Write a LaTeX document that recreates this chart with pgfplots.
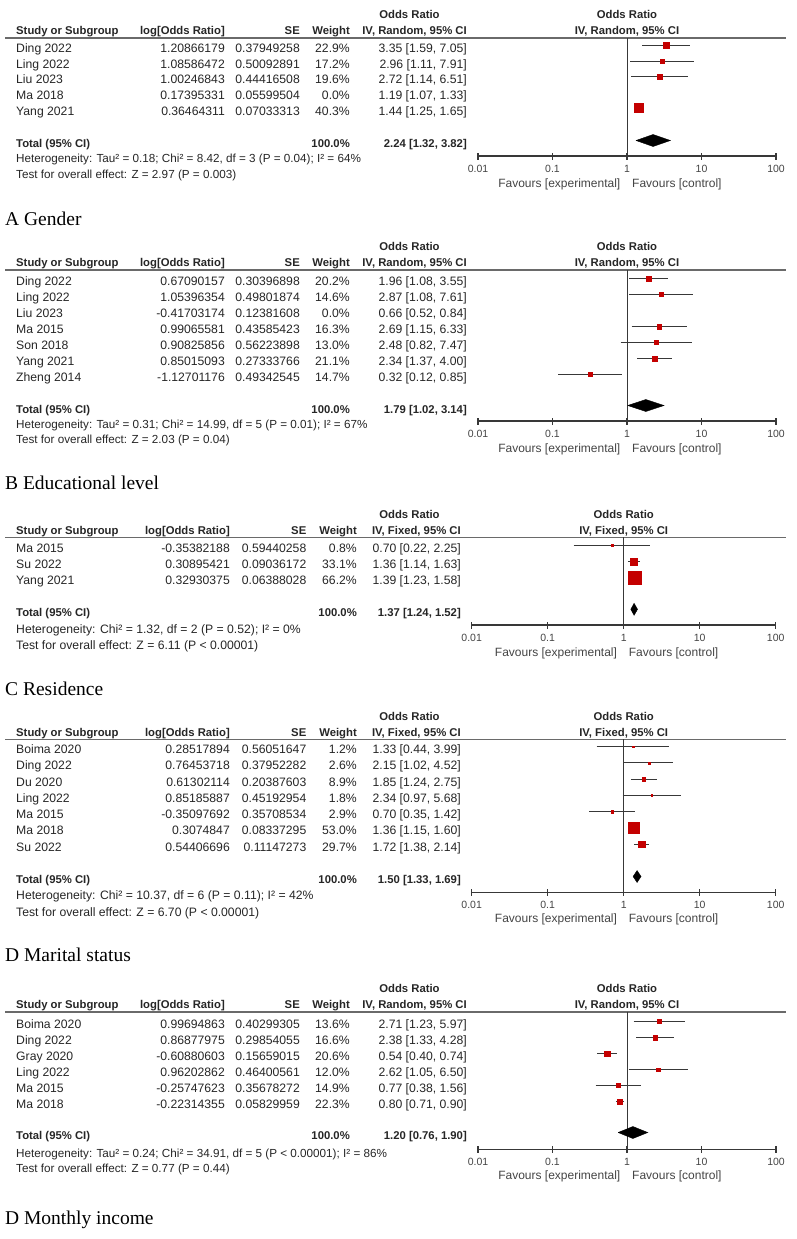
\documentclass[border=0pt]{standalone}
\usepackage{pgfplots}
\pgfplotsset{compat=1.18}
\usepackage{fontspec}
\setmainfont{Liberation Sans}
\newfontfamily\seriffont{Liberation Serif}
\definecolor{txt}{HTML}{262626}
\definecolor{lt}{HTML}{444444}
\definecolor{orred}{HTML}{C40000}
\definecolor{rulec}{HTML}{6A6A6A}
\definecolor{cic}{HTML}{383838}
\tikzset{
 Tx/.style={inner sep=0pt, text=txt, font=\fontsize{12.2}{14}\selectfont},
 Nx/.style={inner sep=0pt, text=txt, font=\fontsize{\fsn}{14}\selectfont},
 Bx/.style={inner sep=0pt, text=txt, font=\fontsize{11.3}{13}\selectfont\bfseries},
 Fx/.style={inner sep=0pt, text=lt, font=\fontsize{12}{14}\selectfont},
 Px/.style={inner sep=0pt, text=black, font=\fontsize{19.5}{22}\selectfont\seriffont},
}
\pgfplotsset{
 every axis/.append style={scale only axis, xmode=log, xmin=0.01, xmax=100,
  axis x line*=bottom, axis y line=none, xtick={0.01,0.1,1,10,100},
  xticklabels={0.01,0.1,1,10,100}, xminorticks=false, tick align=center,
  major tick length=7pt, x axis line style={line width=1.2pt, draw=cic},
  xtick style={line width=1.1pt, draw=cic},
  xticklabel style={font=\fontsize{10.5}{12}\selectfont, text=lt, yshift=-2pt},
  clip=false, enlargelimits=false, anchor=south west},
}
\newcommand\layoutA{\def\cLog{225}\def\cSE{300}\def\cW{350}\def\cCI{467}\def\xone{627}\def\fsn{11.7}}
\newcommand\layoutB{\def\cLog{230}\def\cSE{306.5}\def\cW{357}\def\cCI{461}\def\xone{623.7}\def\fsn{12.2}}
\newcommand\header[2]{%
 \node[Bx,anchor=base west] at (16,#1-3.3) {Study or Subgroup};
 \node[Bx,anchor=base east] at (\cLog,#1-3.3) {log[Odds Ratio]};
 \node[Bx,anchor=base east] at (\cSE,#1-3.3) {SE};
 \node[Bx,anchor=base east] at (\cW,#1-3.3) {Weight};
 \node[Bx,anchor=base east] at (\cCI,#1-3.3) {IV, #2, 95\% CI};
 \node[Bx,anchor=base] at (409.5,#1-19.3) {Odds Ratio};
 \node[Bx,anchor=base] at (\xone,#1-19.3) {Odds Ratio};
 \node[Bx,anchor=base] at (\xone,#1-3.3) {IV, #2, 95\% CI};
 \draw[rulec, line width=1.6pt] (5,#1) -- (786,#1);
}
\newcommand\trow[6]{%
 \node[Tx,anchor=base west] at (16,#1+4.3) {#2};
 \node[Tx,anchor=base east] at (\cLog,#1+4.3) {#3};
 \node[Tx,anchor=base east] at (\cSE,#1+4.3) {#4};
 \node[Tx,anchor=base east] at (\cW,#1+4.3) {#5\%};
 \node[Tx,anchor=base east] at (\cCI,#1+4.3) {#6};
}
\newcommand\ttotal[6]{%
 \node[Bx,anchor=base west] at (16,#1+4.2) {Total (95\% CI)};
 \node[Bx,anchor=base east] at (\cW,#1+4.2) {100.0\%};
 \node[Bx,anchor=base east] at (\cCI,#1+4.2) {#2};
 \node[Nx,anchor=base west] at (16,#3+4.3) {#4};
 \node[Nx,anchor=base west] at (16,#5+4.3) {#6};
}
\newcommand\favours[1]{%
 \node[Fx,anchor=base east] at (\xone-6.5,#1+4.3) {Favours [experimental]};
 \node[Fx,anchor=base west] at (\xone+5,#1+4.3) {Favours [control]};
}
\begin{document}
\begin{tikzpicture}
\path[use as bounding box] (0pt,0pt) rectangle (796pt,-1239pt);
\begin{scope}[x=1pt,y=-1pt]
% ---------- A
\layoutA
\header{38.3}{Random}
\trow{48.3}{Ding 2022}{1.20866179}{0.37949258}{22.9}{3.35 [1.59, 7.05]}
\trow{63.9}{Ling 2022}{1.08586472}{0.50092891}{17.2}{2.96 [1.11, 7.91]}
\trow{79.5}{Liu 2023}{1.00246843}{0.44416508}{19.6}{2.72 [1.14, 6.51]}
\trow{95.1}{Ma 2018}{0.17395331}{0.05599504}{0.0}{1.19 [1.07, 1.33]}
\trow{110.7}{Yang 2021}{0.36464311}{0.07033313}{40.3}{1.44 [1.25, 1.65]}
\ttotal{143.3}{2.24 [1.32, 3.82]}{158.3}{Heterogeneity: Tau² = 0.18; Chi² = 8.42, df = 3 (P = 0.04); I² = 64\%}{174}{Test for overall effect: Z = 2.97 (P = 0.003)}
\favours{183}
\node[Px,anchor=base west] at (5,225) {A Gender};
% ---------- B
\header{270}{Random}
\trow{281}{Ding 2022}{0.67090157}{0.30396898}{20.2}{1.96 [1.08, 3.55]}
\trow{297}{Ling 2022}{1.05396354}{0.49801874}{14.6}{2.87 [1.08, 7.61]}
\trow{313}{Liu 2023}{-0.41703174}{0.12381608}{0.0}{0.66 [0.52, 0.84]}
\trow{329}{Ma 2015}{0.99065581}{0.43585423}{16.3}{2.69 [1.15, 6.33]}
\trow{345}{Son 2018}{0.90825856}{0.56223898}{13.0}{2.48 [0.82, 7.47]}
\trow{361}{Yang 2021}{0.85015093}{0.27333766}{21.1}{2.34 [1.37, 4.00]}
\trow{377}{Zheng 2014}{-1.12701176}{0.49342545}{14.7}{0.32 [0.12, 0.85]}
\ttotal{409}{1.79 [1.02, 3.14]}{424.3}{Heterogeneity: Tau² = 0.31; Chi² = 14.99, df = 5 (P = 0.01); I² = 67\%}{439.5}{Test for overall effect: Z = 2.03 (P = 0.04)}
\favours{448}
\node[Px,anchor=base west] at (5,489) {B Educational level};
% ---------- C
\layoutB
\header{537.3}{Fixed}
\trow{548.3}{Ma 2015}{-0.35382188}{0.59440258}{0.8}{0.70 [0.22, 2.25]}
\trow{564.3}{Su 2022}{0.30895421}{0.09036172}{33.1}{1.36 [1.14, 1.63]}
\trow{580.3}{Yang 2021}{0.32930375}{0.06388028}{66.2}{1.39 [1.23, 1.58]}
\ttotal{612.3}{1.37 [1.24, 1.52]}{629.5}{Heterogeneity: Chi² = 1.32, df = 2 (P = 0.52); I² = 0\%}{645}{Test for overall effect: Z = 6.11 (P < 0.00001)}
\favours{651.7}
\node[Px,anchor=base west] at (5,695.3) {C Residence};
% ---------- D
\header{739.3}{Fixed}
\trow{749.3}{Boima 2020}{0.28517894}{0.56051647}{1.2}{1.33 [0.44, 3.99]}
\trow{765.5}{Ding 2022}{0.76453718}{0.37952282}{2.6}{2.15 [1.02, 4.52]}
\trow{781.8}{Du 2020}{0.61302114}{0.20387603}{8.9}{1.85 [1.24, 2.75]}
\trow{798}{Ling 2022}{0.85185887}{0.45192954}{1.8}{2.34 [0.97, 5.68]}
\trow{814.3}{Ma 2015}{-0.35097692}{0.35708534}{2.9}{0.70 [0.35, 1.42]}
\trow{830.5}{Ma 2018}{0.3074847}{0.08337295}{53.0}{1.36 [1.15, 1.60]}
\trow{846.8}{Su 2022}{0.54406696}{0.11147273}{29.7}{1.72 [1.38, 2.14]}
\ttotal{879.3}{1.50 [1.33, 1.69]}{895.5}{Heterogeneity: Chi² = 10.37, df = 6 (P = 0.11); I² = 42\%}{911.7}{Test for overall effect: Z = 6.70 (P < 0.00001)}
\favours{918.3}
\node[Px,anchor=base west] at (5,961) {D Marital status};
% ---------- E
\layoutA
\header{1011.7}{Random}
\trow{1024.3}{Boima 2020}{0.99694863}{0.40299305}{13.6}{2.71 [1.23, 5.97]}
\trow{1040.3}{Ding 2022}{0.86877975}{0.29854055}{16.6}{2.38 [1.33, 4.28]}
\trow{1056.3}{Gray 2020}{-0.60880603}{0.15659015}{20.6}{0.54 [0.40, 0.74]}
\trow{1072.3}{Ling 2022}{0.96202862}{0.46400561}{12.0}{2.62 [1.05, 6.50]}
\trow{1088.3}{Ma 2015}{-0.25747623}{0.35678272}{14.9}{0.77 [0.38, 1.56]}
\trow{1104.3}{Ma 2018}{-0.22314355}{0.05829959}{22.3}{0.80 [0.71, 0.90]}
\ttotal{1135}{1.20 [0.76, 1.90]}{1152.7}{Heterogeneity: Tau² = 0.24; Chi² = 34.91, df = 5 (P < 0.00001); I² = 86\%}{1168.3}{Test for overall effect: Z = 0.77 (P = 0.44)}
\favours{1175}
\node[Px,anchor=base west] at (5,1224.3) {D Monthly income};
\end{scope}
% ================= plots
% A
\begin{axis}[at={(478pt,-156pt)}, width=298pt, height=117.7pt, ymin=-156, ymax=-38.3]
\addplot[draw=cic, line width=1pt] coordinates {(1,-38.3) (1,-156)};
\addplot[draw=cic, line width=1.2pt] coordinates {(1.59,-45.6) (7.05,-45.6)};
\addplot[draw=cic, line width=1.2pt] coordinates {(1.11,-61.2) (7.91,-61.2)};
\addplot[draw=cic, line width=1.2pt] coordinates {(1.14,-76.8) (6.51,-76.8)};
\addplot[draw=cic, line width=1.2pt] coordinates {(1.25,-108) (1.65,-108)};
\addplot[scatter, only marks, mark=square*, scatter/use mapped color={draw=orred,fill=orred}, visualization depends on={\thisrow{s}\as\ms}, scatter/@pre marker code/.append style={/tikz/mark size=\ms}] table[x=or,y=y]{
or y s
3.35 -45.6 3.0
2.96 -61.2 2.4
2.72 -76.8 2.6
1.44 -108 4.6
};
\addplot[fill=black, draw=black] coordinates {(1.32,-140.5) (2.24,-134.5) (3.82,-140.5) (2.24,-146.5) (1.32,-140.5)};
\end{axis}
% B
\begin{axis}[at={(478pt,-421pt)}, width=298pt, height=151pt, ymin=-421, ymax=-270]
\addplot[draw=cic, line width=1pt] coordinates {(1,-270) (1,-421)};
\addplot[draw=cic, line width=1.2pt] coordinates {(1.08,-278.5) (3.55,-278.5)};
\addplot[draw=cic, line width=1.2pt] coordinates {(1.08,-294.5) (7.61,-294.5)};
\addplot[draw=cic, line width=1.2pt] coordinates {(1.15,-326.5) (6.33,-326.5)};
\addplot[draw=cic, line width=1.2pt] coordinates {(0.82,-342.5) (7.47,-342.5)};
\addplot[draw=cic, line width=1.2pt] coordinates {(1.37,-358.5) (4.00,-358.5)};
\addplot[draw=cic, line width=1.2pt] coordinates {(0.12,-374.5) (0.85,-374.5)};
\addplot[scatter, only marks, mark=square*, scatter/use mapped color={draw=orred,fill=orred}, visualization depends on={\thisrow{s}\as\ms}, scatter/@pre marker code/.append style={/tikz/mark size=\ms}] table[x=or,y=y]{
or y s
1.96 -278.5 2.6
2.87 -294.5 2.0
2.69 -326.5 2.2
2.48 -342.5 1.9
2.34 -358.5 2.7
0.32 -374.5 2.0
};
\addplot[fill=black, draw=black] coordinates {(1.02,-405.5) (1.79,-399.5) (3.14,-405.5) (1.79,-411.5) (1.02,-405.5)};
\end{axis}
% C
\begin{axis}[at={(471.7pt,-625pt)}, width=304pt, height=87.7pt, ymin=-625, ymax=-537.3]
\addplot[draw=cic, line width=1pt] coordinates {(1,-537.3) (1,-625)};
\addplot[draw=cic, line width=1.2pt] coordinates {(0.22,-545.3) (2.25,-545.3)};
\addplot[draw=cic, line width=1.2pt] coordinates {(1.14,-561.3) (1.63,-561.3)};
\addplot[draw=cic, line width=1.2pt] coordinates {(1.23,-577.3) (1.58,-577.3)};
\addplot[scatter, only marks, mark=square*, scatter/use mapped color={draw=orred,fill=orred}, visualization depends on={\thisrow{s}\as\ms}, scatter/@pre marker code/.append style={/tikz/mark size=\ms}] table[x=or,y=y]{
or y s
0.70 -545.3 0.8
1.36 -561.3 3.6
1.39 -577.3 6.4
};
\addplot[fill=black, draw=black] coordinates {(1.24,-609.3) (1.37,-603.3) (1.52,-609.3) (1.37,-615.3) (1.24,-609.3)};
\end{axis}
% D
\begin{axis}[at={(471.7pt,-892.3pt)}, width=304pt, height=153pt, ymin=-892.3, ymax=-739.3]
\addplot[draw=cic, line width=1pt] coordinates {(1,-739.3) (1,-892.3)};
\addplot[draw=cic, line width=1.2pt] coordinates {(0.44,-746.6) (3.99,-746.6)};
\addplot[draw=cic, line width=1.2pt] coordinates {(1.02,-762.8) (4.52,-762.8)};
\addplot[draw=cic, line width=1.2pt] coordinates {(1.24,-779.1) (2.75,-779.1)};
\addplot[draw=cic, line width=1.2pt] coordinates {(0.97,-795.3) (5.68,-795.3)};
\addplot[draw=cic, line width=1.2pt] coordinates {(0.35,-811.6) (1.42,-811.6)};
\addplot[draw=cic, line width=1.2pt] coordinates {(1.15,-827.8) (1.60,-827.8)};
\addplot[draw=cic, line width=1.2pt] coordinates {(1.38,-844.1) (2.14,-844.1)};
\addplot[scatter, only marks, mark=square*, scatter/use mapped color={draw=orred,fill=orred}, visualization depends on={\thisrow{s}\as\ms}, scatter/@pre marker code/.append style={/tikz/mark size=\ms}] table[x=or,y=y]{
or y s
1.33 -746.6 0.9
2.15 -762.8 1.0
1.85 -779.1 1.6
2.34 -795.3 0.9
0.70 -811.6 1.1
1.36 -827.8 5.2
1.72 -844.1 3.3
};
\addplot[fill=black, draw=black] coordinates {(1.33,-876.5) (1.50,-870.5) (1.69,-876.5) (1.50,-882.5) (1.33,-876.5)};
\end{axis}
% E
\begin{axis}[at={(478pt,-1149.3pt)}, width=298pt, height=137.6pt, ymin=-1149.3, ymax=-1011.7]
\addplot[draw=cic, line width=1pt] coordinates {(1,-1011.7) (1,-1149.3)};
\addplot[draw=cic, line width=1.2pt] coordinates {(1.23,-1021.5) (5.97,-1021.5)};
\addplot[draw=cic, line width=1.2pt] coordinates {(1.33,-1037.5) (4.28,-1037.5)};
\addplot[draw=cic, line width=1.2pt] coordinates {(0.40,-1053.5) (0.74,-1053.5)};
\addplot[draw=cic, line width=1.2pt] coordinates {(1.05,-1069.5) (6.50,-1069.5)};
\addplot[draw=cic, line width=1.2pt] coordinates {(0.38,-1085.5) (1.56,-1085.5)};
\addplot[draw=cic, line width=1.2pt] coordinates {(0.71,-1101.5) (0.90,-1101.5)};
\addplot[scatter, only marks, mark=square*, scatter/use mapped color={draw=orred,fill=orred}, visualization depends on={\thisrow{s}\as\ms}, scatter/@pre marker code/.append style={/tikz/mark size=\ms}] table[x=or,y=y]{
or y s
2.71 -1021.5 2.0
2.38 -1037.5 2.3
0.54 -1053.5 2.7
2.62 -1069.5 1.8
0.77 -1085.5 2.1
0.80 -1101.5 2.8
};
\addplot[fill=black, draw=black] coordinates {(0.76,-1132.5) (1.20,-1126.5) (1.90,-1132.5) (1.20,-1138.5) (0.76,-1132.5)};
\end{axis}
\end{tikzpicture}
\end{document}
